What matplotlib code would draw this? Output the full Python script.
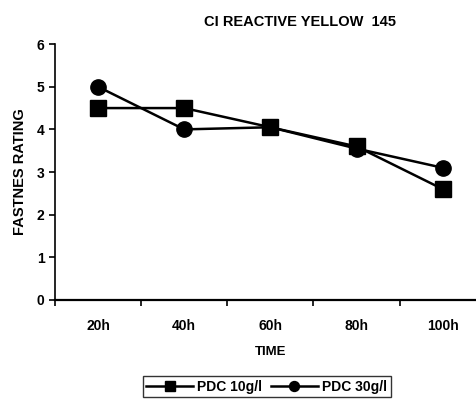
import numpy as np
import matplotlib
matplotlib.use('Agg')
import matplotlib.pyplot as plt

# data
times = ['20h', '40h', '60h', '80h', '100h']
pdc_10 = [4.5, 4.5, 4.05, 3.6, 2.6]
pdc_30 = [5.0, 4.0, 4.05, 3.55, 3.1]

plt.rcParams['font.family'] = ['Liberation Sans', 'DejaVu Sans']
plt.rcParams['font.weight'] = 'bold'

fig = plt.figure(figsize=(4.76, 4.01), dpi=100)
ax = fig.add_axes([0.1155, 0.252, 0.905, 0.638])

x = np.arange(len(times))
ax.plot(x, pdc_10, color='black', lw=1.8, marker='s', ms=11, label='PDC 10g/l')
ax.plot(x, pdc_30, color='black', lw=1.8, marker='o', ms=11, label='PDC 30g/l')

ax.set_xlim(-0.5, len(times) - 0.5)
ax.set_ylim(0, 6)
ax.set_yticks(range(0, 7))
ax.set_xticks(x)
ax.set_xticklabels(times)
ax.set_xticks(np.arange(-0.5, len(times), 1.0), minor=True)
ax.tick_params(axis='x', which='major', length=0, pad=14, labelsize=10)
ax.tick_params(axis='x', which='minor', length=4, width=1.2, direction='out')
ax.tick_params(axis='y', length=4, width=1.2, labelsize=10)
ax.spines['top'].set_visible(False)
ax.spines['right'].set_visible(False)
ax.spines['left'].set_linewidth(1.2)
ax.spines['bottom'].set_linewidth(1.6)

ax.set_xlabel('TIME', fontsize=9.5, fontweight='bold', labelpad=9)
ax.set_ylabel('FASTNES RATING', fontsize=10.5, fontweight='bold', labelpad=7)
fig.text(0.63, 0.945, 'CI REACTIVE YELLOW  145', ha='center', va='center',
         fontsize=10.5, fontweight='bold')

leg = fig.legend(loc='center', bbox_to_anchor=(0.56, 0.035), ncol=2,
                 frameon=True, fancybox=False, edgecolor='black',
                 fontsize=10, handlelength=3.4, markerscale=0.65,
                 columnspacing=0.6, handletextpad=0.3, borderpad=0.25,
                 borderaxespad=0)
leg.get_frame().set_linewidth(1.0)

fig.savefig('out.png', dpi=100)
